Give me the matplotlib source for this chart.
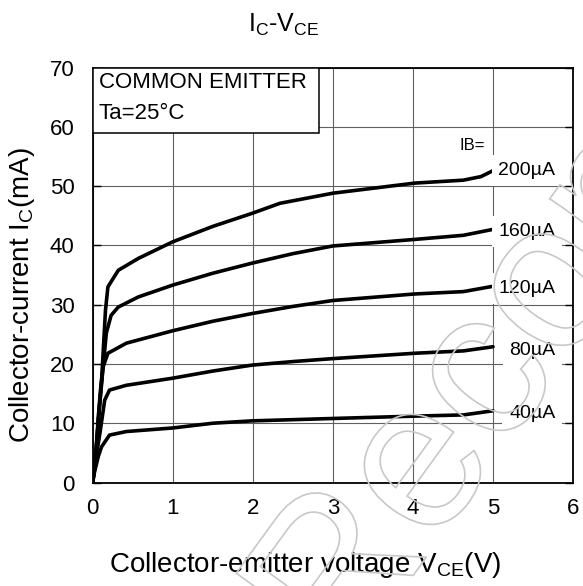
import matplotlib
matplotlib.use("Agg")
import matplotlib.pyplot as plt
from matplotlib.patches import Rectangle, PathPatch
from matplotlib.textpath import TextPath
from matplotlib.font_manager import FontProperties
from matplotlib.transforms import Affine2D

plt.rcParams['font.family'] = ['Liberation Sans', 'DejaVu Sans']
plt.rcParams['mathtext.fontset'] = 'custom'
plt.rcParams['mathtext.rm'] = 'Liberation Sans'
plt.rcParams['mathtext.it'] = 'Liberation Sans'

# I_C - V_CE curves, one per base current
vce_40 = [0, 0.02, 0.07, 0.11, 0.21, 0.42, 1.0, 1.5, 1.99, 2.5, 3.0, 4.02, 4.63, 5.0]
ic_40 = [0, 1.6, 4.4, 6.0, 8.0, 8.6, 9.2, 10.0, 10.4, 10.6, 10.8, 11.2, 11.4, 12.1]

vce_80 = [0, 0.05, 0.09, 0.15, 0.21, 0.42, 1.0, 1.5, 1.99, 2.5, 3.0, 4.02, 4.63, 5.0]
ic_80 = [0, 5.0, 8.3, 13.9, 15.6, 16.4, 17.6, 18.8, 19.8, 20.4, 20.9, 21.8, 22.2, 22.9]

vce_120 = [0, 0.04, 0.07, 0.10, 0.13, 0.19, 0.42, 1.0, 1.5, 1.99, 2.5, 3.0, 4.02, 4.63, 5.0]
ic_120 = [0, 5.0, 11.1, 16.0, 19.5, 21.8, 23.5, 25.6, 27.2, 28.5, 29.7, 30.7, 31.8, 32.2, 33.1]

vce_160 = [0, 0.04, 0.08, 0.12, 0.15, 0.17, 0.23, 0.32, 0.57, 1.0, 1.5, 1.99, 2.5, 3.0, 4.02, 4.63, 5.0]
ic_160 = [0, 5.0, 12.0, 18.0, 22.3, 25.2, 28.2, 29.6, 31.3, 33.3, 35.3, 37.0, 38.6, 39.9, 41.0, 41.7, 42.7]

vce_200 = [0, 0.04, 0.08, 0.11, 0.13, 0.16, 0.19, 0.32, 0.57, 1.0, 1.5, 1.99, 2.34, 3.0, 4.02, 4.63, 4.85, 5.0]
ic_200 = [0, 5.0, 12.0, 17.0, 21.8, 29.1, 33.0, 35.8, 37.8, 40.6, 43.2, 45.4, 47.1, 48.8, 50.5, 51.0, 51.6, 52.6]

curves = [(vce_40, ic_40), (vce_80, ic_80), (vce_120, ic_120), (vce_160, ic_160), (vce_200, ic_200)]
labels = ['40µA', '80µA', '120µA', '160µA', '200µA']
label_y = [11.7, 22.3, 32.7, 42.3, 52.6]

x_ticks = [0, 1, 2, 3, 4, 5, 6]
y_ticks = [0, 10, 20, 30, 40, 50, 60, 70]

fig = plt.figure(figsize=(5.83, 5.86), dpi=100)
ax = fig.add_axes([0.159, 0.1766, 0.824, 0.7082])

for x, y in curves:
    ax.plot(x, y, color='black', linewidth=2.6, solid_capstyle='round',
            solid_joinstyle='round', zorder=4)

for lab, ly in zip(labels, label_y):
    ax.text(5.78, ly, lab, ha='right', va='center', fontsize=14, zorder=5,
            bbox=dict(boxstyle='square,pad=0.35', facecolor='white', edgecolor='none'))
ax.text(4.74, 56.9, 'IB=', ha='center', va='center', fontsize=12, zorder=5,
        bbox=dict(boxstyle='square,pad=0.2', facecolor='white', edgecolor='none'))

# condition box in the top left corner
ax.add_patch(Rectangle((0, 58.9), 2.83, 11.1, facecolor='white', edgecolor='black',
                       linewidth=1.1, zorder=3))
ax.text(0.075, 67.4, 'COMMON EMITTER', ha='left', va='center', fontsize=16, zorder=5)
ax.text(0.075, 62.2, 'Ta=25°C', ha='left', va='center', fontsize=16, zorder=5)

ax.set_xlim(0, 6)
ax.set_ylim(0, 70)
ax.set_xticks(x_ticks)
ax.set_yticks(y_ticks)
ax.grid(True, color='#606060', linewidth=0.8, zorder=1)
ax.set_axisbelow(True)
ax.tick_params(axis='both', direction='in', length=6, width=1, labelsize=16)
ax.tick_params(axis='x', pad=11, length=0)
ax.tick_params(axis='y', pad=13, right=True)
for s in ax.spines.values():
    s.set_linewidth(1.3)

fig.text(0.487, 0.957, r'I$_{\mathrm{C}}$-V$_{\mathrm{CE}}$', ha='center', va='center', fontsize=18)
fig.text(0.524, 0.036, r'Collector-emitter voltage V$_{\mathrm{CE}}$(V)', ha='center', va='center', fontsize=20)
fig.text(0.038, 0.497, r'Collector-current I$_{\mathrm{C}}$(mA)', ha='center', va='center',
         rotation=90, fontsize=20)

# faint outline watermark
tp = TextPath((0, 0), 'Recom', size=210, prop=FontProperties(family='Liberation Sans'))
wm = PathPatch(tp, facecolor='none', edgecolor='#c8c8c8', linewidth=1.2,
               transform=Affine2D().rotate_deg(54).translate(343, -86), zorder=10)
fig.add_artist(wm)

fig.savefig('out.png', dpi=100)
